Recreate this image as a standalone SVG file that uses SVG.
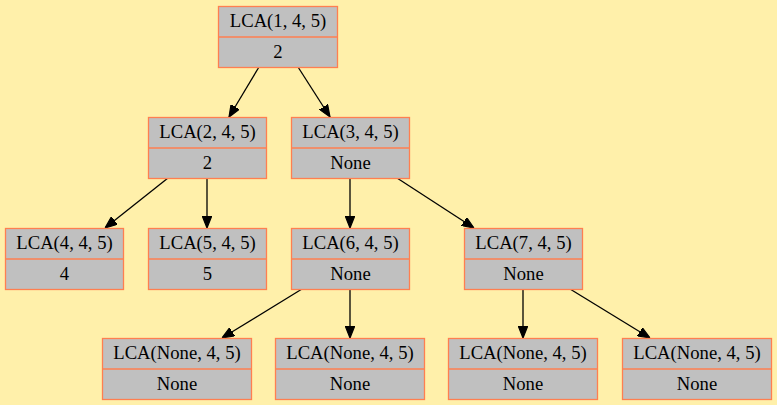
<svg xmlns="http://www.w3.org/2000/svg" width="777" height="405" viewBox="0 0 777 405">
<style>
.box{fill:#c0c0c0;stroke:#ff7f50;stroke-width:1.3}
.t{font-size:18.67px;text-anchor:middle;fill:#000}
.e{stroke:#000;stroke-width:1.3;fill:none;marker-end:url(#ah)}
</style>
<defs>
<marker id="ah" markerUnits="userSpaceOnUse" markerWidth="12" markerHeight="10" refX="10" refY="4" orient="auto" viewBox="0 0 10 8">
<path d="M0,0 L10,4 L0,8 Z" fill="#000" stroke="#000"/>
</marker>
</defs>
<rect width="777" height="405" fill="#fff0aa"/>
<g id="connectors">
<path class="e" d="M259,67 L229,117"/>
<path class="e" d="M298,67 L330,117"/>
<path class="e" d="M168,178 L105,228"/>
<path class="e" d="M207,178 L207,228"/>
<path class="e" d="M350,178 L350,228"/>
<path class="e" d="M397,178 L474,228"/>
<path class="e" d="M302,289 L222,338"/>
<path class="e" d="M350,289 L350,338"/>
<path class="e" d="M523,289 L523,338"/>
<path class="e" d="M570,289 L650,338"/>
</g>
<g font-family="Times New Roman, Liberation Serif, DejaVu Serif, serif">
<g id="n1"><rect class="box" x="218.5" y="6.5" width="119" height="61"/><line class="box" x1="218.5" y1="37" x2="337.5" y2="37"/><text class="t" x="278" y="27">LCA(1, 4, 5)</text><text class="t" x="278" y="58">2</text></g>
<g id="n2"><rect class="box" x="148.5" y="117.5" width="118" height="61"/><line class="box" x1="148.5" y1="148" x2="266.5" y2="148"/><text class="t" x="207.5" y="138">LCA(2, 4, 5)</text><text class="t" x="207.5" y="169">2</text></g>
<g id="n3"><rect class="box" x="291.5" y="117.5" width="118" height="61"/><line class="box" x1="291.5" y1="148" x2="409.5" y2="148"/><text class="t" x="350.5" y="138">LCA(3, 4, 5)</text><text class="t" x="350.5" y="169">None</text></g>
<g id="n4"><rect class="box" x="5.5" y="228.5" width="118" height="61"/><line class="box" x1="5.5" y1="259" x2="123.5" y2="259"/><text class="t" x="64.5" y="249">LCA(4, 4, 5)</text><text class="t" x="64.5" y="280">4</text></g>
<g id="n5"><rect class="box" x="148.5" y="228.5" width="118" height="61"/><line class="box" x1="148.5" y1="259" x2="266.5" y2="259"/><text class="t" x="207.5" y="249">LCA(5, 4, 5)</text><text class="t" x="207.5" y="280">5</text></g>
<g id="n6"><rect class="box" x="291.5" y="228.5" width="118" height="61"/><line class="box" x1="291.5" y1="259" x2="409.5" y2="259"/><text class="t" x="350.5" y="249">LCA(6, 4, 5)</text><text class="t" x="350.5" y="280">None</text></g>
<g id="n7"><rect class="box" x="464.5" y="228.5" width="118" height="61"/><line class="box" x1="464.5" y1="259" x2="582.5" y2="259"/><text class="t" x="523.5" y="249">LCA(7, 4, 5)</text><text class="t" x="523.5" y="280">None</text></g>
<g id="n8"><rect class="box" x="102.5" y="338.5" width="149" height="61"/><line class="box" x1="102.5" y1="369" x2="251.5" y2="369"/><text class="t" x="177" y="359">LCA(None, 4, 5)</text><text class="t" x="177" y="390">None</text></g>
<g id="n9"><rect class="box" x="275.5" y="338.5" width="149" height="61"/><line class="box" x1="275.5" y1="369" x2="424.5" y2="369"/><text class="t" x="350" y="359">LCA(None, 4, 5)</text><text class="t" x="350" y="390">None</text></g>
<g id="n10"><rect class="box" x="448.5" y="338.5" width="149" height="61"/><line class="box" x1="448.5" y1="369" x2="597.5" y2="369"/><text class="t" x="523" y="359">LCA(None, 4, 5)</text><text class="t" x="523" y="390">None</text></g>
<g id="n11"><rect class="box" x="622.5" y="338.5" width="149" height="61"/><line class="box" x1="622.5" y1="369" x2="771.5" y2="369"/><text class="t" x="697" y="359">LCA(None, 4, 5)</text><text class="t" x="697" y="390">None</text></g>
</g>
</svg>
